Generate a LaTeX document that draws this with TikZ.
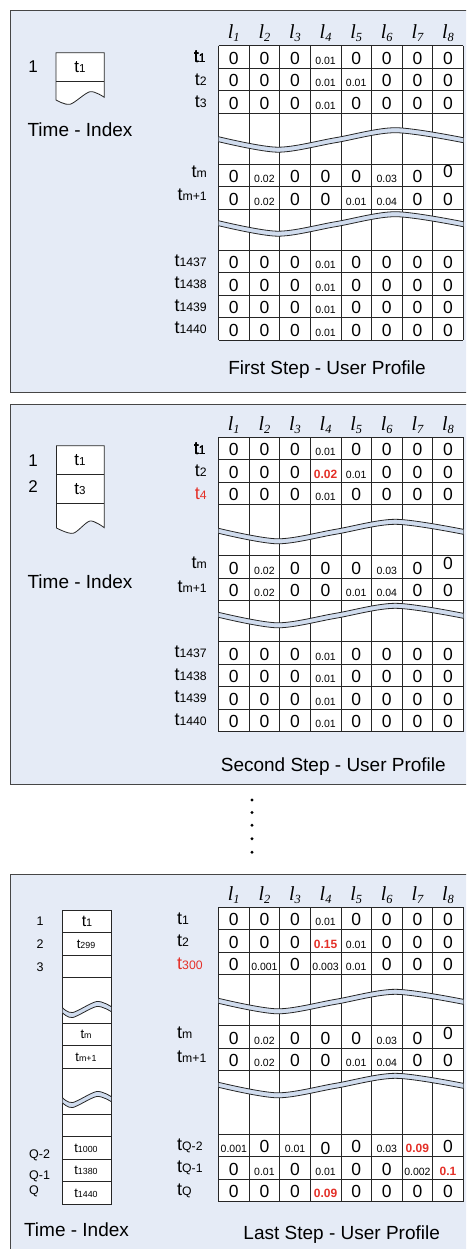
\documentclass[tikz,border=0pt]{standalone}
\usepackage{fontspec}
\usepackage{graphicx}
\setmainfont{Liberation Sans}
\newfontfamily\headfont{Liberation Serif}

\definecolor{panelfill}{RGB}{229,235,246}
\definecolor{cutfill}{RGB}{208,220,238}
\definecolor{hired}{RGB}{228,48,40}
\definecolor{paneledge}{RGB}{70,70,70}

\newcommand{\tsub}[1]{t\scalebox{0.68}{#1}}
\newcommand{\sm}[1]{{\fontsize{10.5}{12}\selectfont #1}}
\newcommand{\hl}[1]{{\fontsize{12}{14}\selectfont\bfseries\color{hired}#1}}
\newcommand{\up}[1]{\raisebox{5pt}{#1}}
\newcommand{\dn}[1]{\raisebox{-2pt}{#1}}
\newcommand{\loc}[1]{{\headfont\itshape l\raisebox{-0.35ex}{\scalebox{0.62}{#1}}}}

% one row of values: name, baseline, the eight values
\newcommand{\valrow}[3]{%
  \foreach \val [count=\col] in {#3}
    \node[val] (#1-\col) at (203.2+30.6*\col,#2) {\val};}

% wavy cut through a table
\newcommand{\tablecut}[1]{%
  \begin{scope}[shift={(218.5,#1)}]
    \fill[cutfill] plot[smooth] coordinates {(0,0) (59,10.5) (117,1) (177,-9) (244.8,1)}
      -- plot[smooth] coordinates {(244.8,6) (177,-4) (117,6) (59,15.5) (0,5)} -- cycle;
    \draw[gridline] plot[smooth] coordinates {(0,0) (59,10.5) (117,1) (177,-9) (244.8,1)};
    \draw[gridline] plot[smooth] coordinates {(0,5) (59,15.5) (117,6) (177,-4) (244.8,6)};
  \end{scope}}

% wavy cut through the index column
\newcommand{\indexcut}[2]{%
  \begin{scope}[shift={(#1,#2)}]
    \fill[cutfill] plot[smooth] coordinates {(0,0) (10,4.5) (34,-6.5) (48.3,-1.5)}
      -- plot[smooth] coordinates {(48.3,3.5) (34,-1.5) (10,9.5) (0,5)} -- cycle;
    \draw[gridline] plot[smooth] coordinates {(0,0) (10,4.5) (34,-6.5) (48.3,-1.5)};
    \draw[gridline] plot[smooth] coordinates {(0,5) (10,9.5) (34,-1.5) (48.3,3.5)};
  \end{scope}}

\begin{document}
\begin{tikzpicture}[x=1pt, y=-1pt,
  panel/.style={draw=paneledge, fill=panelfill, line width=1pt},
  gridline/.style={draw=black!85, line width=0.8pt},
  val/.style={anchor=base, inner sep=0pt, font=\fontsize{17.5}{20}\selectfont},
  rowlab/.style={anchor=base east, inner sep=0pt, font=\fontsize{18}{20}\selectfont},
  colhead/.style={anchor=base, inner sep=0pt, font=\fontsize{20}{22}\selectfont},
  steptitle/.style={anchor=base, inner sep=0pt, font=\fontsize{19}{22}\selectfont},
  idxnum/.style={anchor=base, inner sep=0pt, font=\fontsize{17}{20}\selectfont},
  idxsmall/.style={inner sep=0pt, font=\fontsize{12.5}{14}\selectfont},
  idxval/.style={inner sep=0pt, font=\fontsize{17}{20}\selectfont},
  idxval3/.style={inner sep=0pt, font=\fontsize{13}{15}\selectfont}]
  \useasboundingbox (0,0) rectangle (466,1249);
  \clip (0,0) rectangle (466,1249);

  % Panels
  \draw[panel] (10,11) rectangle (480,392);
  \draw[panel] (10,404) rectangle (480,784);
  \draw[panel] (10,874) rectangle (480,1280);

  % Tables
  \foreach \T [count=\pn] in {45.7,437.3,907.3}{
    \fill[white] (218.5,\T) rectangle (463.3,\T+294.5);
    \foreach \k in {0,...,8}
      \draw[gridline] (218.5+30.6*\k,\T) -- (218.5+30.6*\k,\T+294.5);
    \foreach \r in {0,22.5,45,67.5,118.5,141,163.5,227,249.5,272,294.5}
      \draw[gridline] (218.5,\T+\r) -- (463.3,\T+\r);
    \tablecut{\T+91}
    \tablecut{\T+175}
    \foreach \k in {1,...,8}
      \node[colhead] (p\pn-l\k) at (203.2+30.6*\k,\T-7) {\loc{\k}};
  }
  \draw[gridline] (218.5,250.2) -- (463.3,250.2);
  \draw[gridline] (218.5,641.8) -- (463.3,641.8);

  % First step
  \valrow{p1a}{64.2}{0,0,0,\sm{0.01},0,0,0,0}
  \valrow{p1b}{86.7}{0,0,0,\sm{0.01},\sm{0.01},0,0,0}
  \valrow{p1c}{109.2}{0,0,0,\sm{0.01},0,0,0,0}
  \valrow{p1m}{182.7}{0,\sm{0.02},0,0,0,\sm{0.03},0,\up{0}}
  \valrow{p1n}{205.2}{0,\sm{0.02},0,0,\sm{0.01},\sm{0.04},0,0}
  \foreach \y [count=\i] in {268.7,291.2,313.7,336.2}
    \valrow{p1z\i}{\y}{0,0,0,\sm{0.01},0,0,0,0}
  \node[rowlab] (p1t1) at (206,63) {\tsub{1}};
  \node[rowlab] (p1t2) at (207,85.2) {\tsub{2}};
  \node[rowlab] (p1t3) at (207,107.7) {\tsub{3}};
  \node[rowlab] (p1tm) at (207,177.2) {\tsub{m}};
  \node[rowlab] (p1tn) at (207,200.7) {\tsub{m+1}};
  \foreach \y/\n in {266.2/1437,288.7/1438,311.2/1439,333.7/1440}
    \node[rowlab] (p1t\n) at (207,\y) {\tsub{\n}};
  \node[idxnum] (p1i) at (33,72.5) {1};
  \filldraw[fill=white, gridline] (104.3,97.3) -- (104.3,52.7) -- (56,52.7) -- (56,100)
    -- plot[smooth] coordinates {(56,100) (70,104.3) (90,91.7) (104.3,97.3)} -- cycle;
  \draw[gridline] (56,81) -- (104.3,81);
  \node[idxval] (p1x1) at (80,66.7) {\tsub{1}};
  \node[steptitle] (p1index) at (80,136.7) {Time - Index};
  \node[steptitle] (p1title) at (327,374) {First Step - User Profile};

  % Second step
  \valrow{p2a}{455.8}{0,0,0,\sm{0.01},0,0,0,0}
  \valrow{p2b}{478.3}{0,0,0,\hl{0.02},\sm{0.01},0,0,0}
  \valrow{p2c}{500.8}{0,0,0,\sm{0.01},0,0,0,0}
  \valrow{p2m}{574.3}{0,\sm{0.02},0,0,0,\sm{0.03},0,\up{0}}
  \valrow{p2n}{596.8}{0,\sm{0.02},0,0,\sm{0.01},\sm{0.04},0,0}
  \foreach \y [count=\i] in {660.3,682.8,705.3,727.8}
    \valrow{p2z\i}{\y}{0,0,0,\sm{0.01},0,0,0,0}
  \node[rowlab] (p2t1) at (206,454.6) {\tsub{1}};
  \node[rowlab] (p2t2) at (207,476.8) {\tsub{2}};
  \node[rowlab, text=hired] (p2t4) at (207,499.3) {\tsub{4}};
  \node[rowlab] (p2tm) at (207,568.8) {\tsub{m}};
  \node[rowlab] (p2tn) at (207,592.3) {\tsub{m+1}};
  \foreach \y/\n in {657.8/1437,680.3/1438,702.8/1439,725.3/1440}
    \node[rowlab] (p2t\n) at (207,\y) {\tsub{\n}};
  \node[idxnum] (p2i1) at (33,466.8) {1};
  \node[idxnum] (p2i2) at (33,492.8) {2};
  \filldraw[fill=white, gridline] (104.3,527.7) -- (104.3,445.7) -- (56.5,445.7) -- (56.5,528)
    -- plot[smooth] coordinates {(56.5,528) (73,533.3) (90,521) (104.3,527.7)} -- cycle;
  \draw[gridline] (56.5,474) -- (104.3,474) (56.5,503.3) -- (104.3,503.3);
  \node[idxval] (p2x1) at (80,460) {\tsub{1}};
  \node[idxval] (p2x2) at (80,489) {\tsub{3}};
  \node[steptitle] (p2index) at (80,588.3) {Time - Index};
  \node[steptitle] (p2title) at (333.3,771) {Second Step - User Profile};

  % Dots
  \foreach \y in {800,812.5,825.3,838.7,852.3}
    \fill (252,\y) circle (1.6pt);

  % Last step
  \valrow{p3a}{925.8}{0,0,0,\sm{0.01},0,0,0,0}
  \valrow{p3b}{948.3}{0,0,0,\hl{0.15},\sm{0.01},0,0,0}
  \valrow{p3c}{970.8}{0,\sm{0.001},0,\sm{0.003},\sm{0.01},0,0,0}
  \valrow{p3m}{1044.3}{0,\sm{0.02},0,0,0,\sm{0.03},0,\up{0}}
  \valrow{p3n}{1066.8}{0,\sm{0.02},0,0,\sm{0.01},\sm{0.04},0,0}
  \valrow{p3q}{1152.8}{\sm{0.001},0,\sm{0.01},\dn{0},0,\sm{0.03},\hl{0.09},0}
  \valrow{p3r}{1175.3}{0,\sm{0.01},0,\sm{0.01},0,0,\sm{0.002},\hl{0.1}}
  \valrow{p3s}{1197.8}{0,0,0,\hl{0.09},0,0,0,0}
  \node[rowlab, anchor=base west] (p3t1) at (177,924.3) {\tsub{1}};
  \node[rowlab, anchor=base west] (p3t2) at (177,946.8) {\tsub{2}};
  \node[rowlab, anchor=base west, text=hired] (p3t300) at (177,969.3) {\tsub{300}};
  \node[rowlab, anchor=base west] (p3tm) at (177,1038.8) {\tsub{m}};
  \node[rowlab, anchor=base west] (p3tn) at (177,1062.8) {\tsub{m+1}};
  \node[rowlab, anchor=base west] (p3tq2) at (177,1150.3) {\tsub{Q-2}};
  \node[rowlab, anchor=base west] (p3tq1) at (177,1172.8) {\tsub{Q-1}};
  \node[rowlab, anchor=base west] (p3tq) at (177,1195.3) {\tsub{Q}};
  \filldraw[fill=white, gridline] (62.7,910) rectangle (111,1204.3);
  \foreach \y in {932.3,955.7,977.7,1023.3,1045.7,1068.3,1114,1136.7,1159.3,1181.7}
    \draw[gridline] (62.7,\y) -- (111,\y);
  \indexcut{62.7}{1008}
  \indexcut{62.7}{1098}
  \node[idxval, font=\fontsize{16}{18}\selectfont] (p3x1) at (87,921.5) {\tsub{1}};
  \node[idxval3] (p3x2) at (86,944) {\tsub{299}};
  \node[idxval3] (p3xm) at (86,1034.5) {\tsub{m}};
  \node[idxval3] (p3xn) at (86,1057) {\tsub{m+1}};
  \node[idxval3] (p3xq2) at (86,1148) {\tsub{1000}};
  \node[idxval3] (p3xq1) at (86,1170.5) {\tsub{1380}};
  \node[idxval3] (p3xq) at (86,1193) {\tsub{1440}};
  \node[idxsmall] (p3i1) at (40,921) {1};
  \node[idxsmall] (p3i2) at (40,944) {2};
  \node[idxsmall] (p3i3) at (40,966.7) {3};
  \node[idxsmall, anchor=west] (p3iq2) at (29,1155) {Q-2};
  \node[idxsmall, anchor=west] (p3iq1) at (29,1176.7) {Q-1};
  \node[idxsmall, anchor=west] (p3iq) at (29,1191.7) {Q};
  \node[steptitle] (p3index) at (76.5,1236) {Time - Index};
  \node[steptitle] (p3title) at (341.7,1239) {Last Step - User Profile};
\end{tikzpicture}
\end{document}
